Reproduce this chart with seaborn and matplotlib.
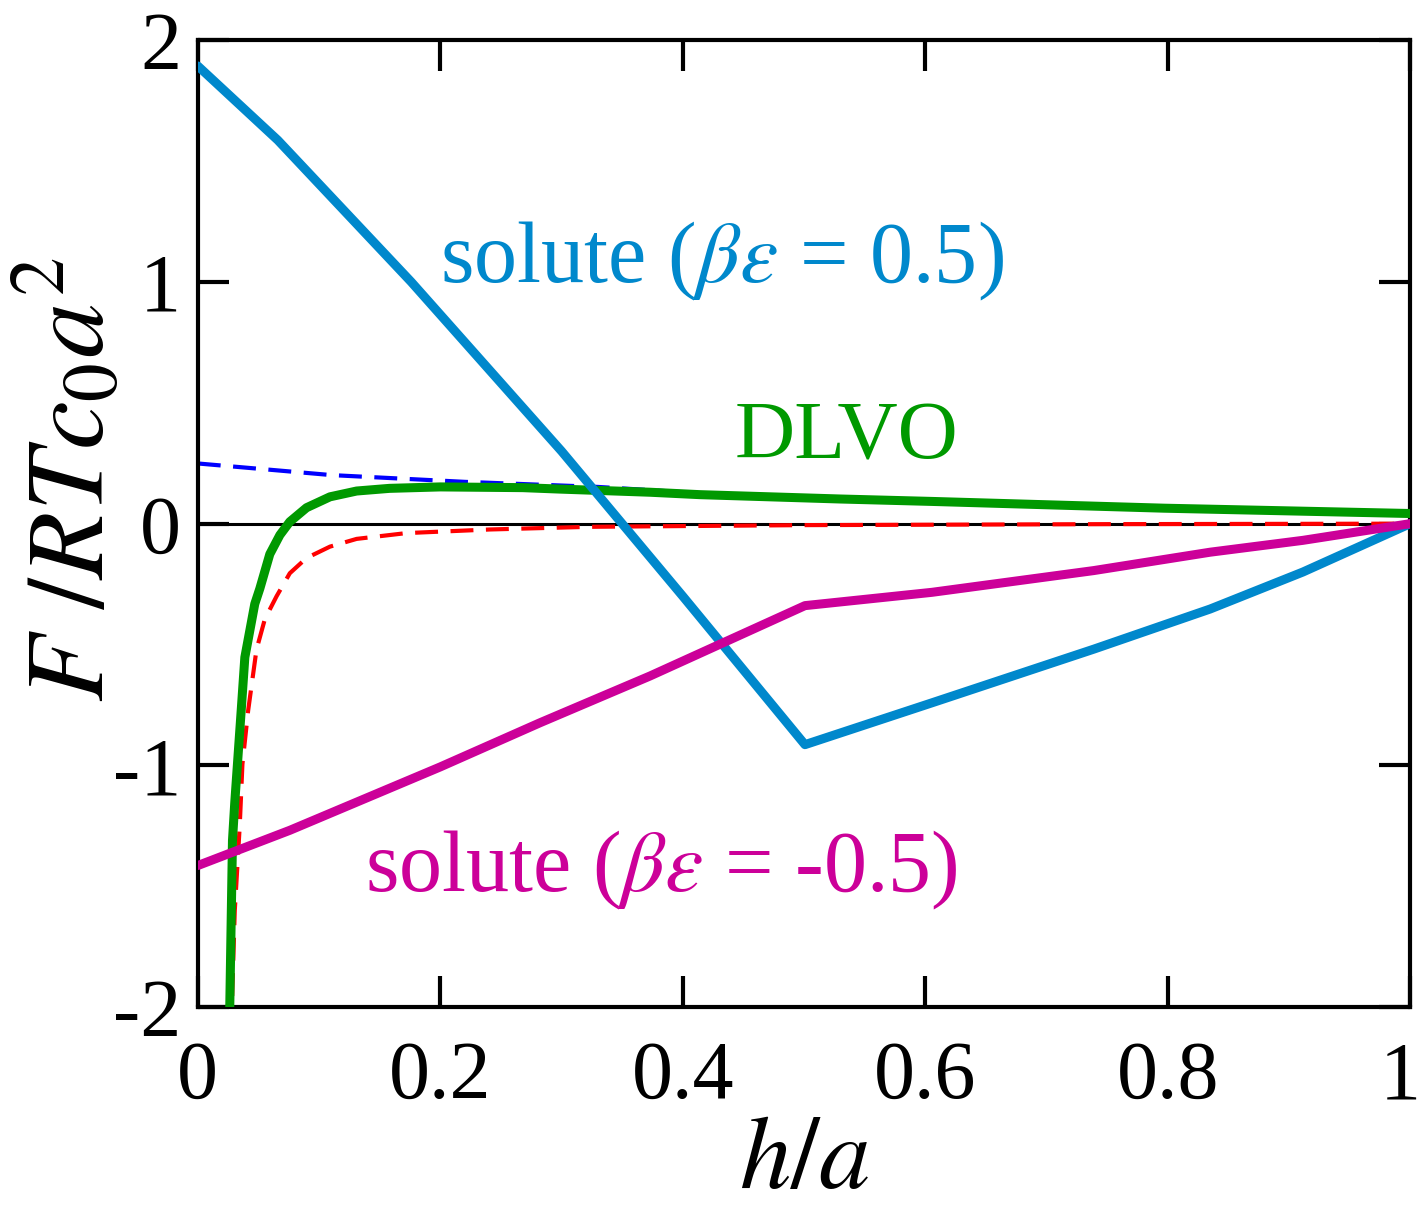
import matplotlib
matplotlib.use("Agg")
import matplotlib.pyplot as plt
import matplotlib.transforms as mtransforms
import seaborn as sns
import numpy as np

# ---- data ----
h_pos = [0.0, 0.066, 0.176, 0.3, 0.4, 0.5008, 0.6055, 0.739, 0.835, 0.9115, 1.0]
F_pos = [1.893, 1.586, 1.0, 0.30, -0.30, -0.914, -0.741, -0.519, -0.353, -0.20, 0.0]

h_neg = [0.0, 0.076, 0.2, 0.282, 0.373, 0.5008, 0.6055, 0.739, 0.835, 0.9115, 1.0]
F_neg = [-1.414, -1.268, -1.006, -0.824, -0.63, -0.339, -0.284, -0.194, -0.118, -0.069, 0.0]

h_dlvo = [0.0262, 0.0286, 0.0305, 0.036, 0.0388, 0.047, 0.0512, 0.0594, 0.0677, 0.0759,
          0.0897, 0.109, 0.131, 0.158, 0.2, 0.268, 0.2987, 0.373, 0.414, 0.53, 0.6055, 0.797, 1.0]
F_dlvo = [-2.05, -1.311, -1.153, -0.758, -0.553, -0.332, -0.268, -0.126, -0.047, 0.008,
          0.066, 0.111, 0.135, 0.146, 0.152, 0.149, 0.143, 0.130, 0.120, 0.102, 0.092, 0.064, 0.042]

h_edl = [0.0, 0.11, 0.22, 0.33, 0.414, 0.53, 0.6055, 0.797, 1.0]
F_edl = [0.249, 0.201, 0.173, 0.152, 0.126, 0.102, 0.093, 0.063, 0.042]

h_vdw = [0.0275, 0.0305, 0.0346, 0.0368, 0.0415, 0.0484, 0.0553, 0.065, 0.0759, 0.0897, 0.109,
         0.131, 0.172, 0.241, 0.323, 0.5, 0.75, 1.0]
F_vdw = [-2.1, -1.6, -1.248, -0.995, -0.774, -0.521, -0.395, -0.300, -0.205, -0.142, -0.095,
         -0.063, -0.039, -0.024, -0.013, -0.006, -0.002, 0.0]

x_ticks = [0, 0.2, 0.4, 0.6, 0.8, 1]
x_ticklabels = ["0", "0.2", "0.4", "0.6", "0.8", "1"]
y_ticks = [-2, -1, 0, 1, 2]
y_ticklabels = ["-2", "-1", "0", "1", "2"]

c_pos = "#0088CC"
c_neg = "#CC0099"
c_dlvo = "#009900"

sns.set_theme(style="ticks")
plt.rcParams["font.family"] = ["Liberation Serif", "DejaVu Serif"]
plt.rcParams["mathtext.fontset"] = "stix"
plt.rcParams["axes.labelcolor"] = "black"
plt.rcParams["text.color"] = "black"

fig = plt.figure(figsize=(14.23, 12.15), dpi=100)
ax = fig.add_axes([0.139, 0.171, 0.852, 0.796])

ax.axhline(0, color="black", lw=2.2, zorder=1)
sns.lineplot(x=h_edl, y=F_edl, ax=ax, color="#0000FF", lw=3.0, linestyle=(0, (5.5, 3)), zorder=2)
sns.lineplot(x=h_vdw, y=F_vdw, ax=ax, color="#FF0000", lw=3.0, linestyle=(0, (5.5, 3)), zorder=3)
sns.lineplot(x=h_dlvo, y=F_dlvo, ax=ax, color=c_dlvo, lw=6.5, zorder=4)
sns.lineplot(x=h_pos, y=F_pos, ax=ax, color=c_pos, lw=6.5, zorder=5)
sns.lineplot(x=h_neg, y=F_neg, ax=ax, color=c_neg, lw=6.5, zorder=6)

ax.set_xlim(0, 1)
ax.set_ylim(-2, 2)
ax.set_xticks(x_ticks)
ax.set_xticklabels(x_ticklabels)
ax.set_yticks(y_ticks)
ax.set_yticklabels(y_ticklabels)
ax.tick_params(direction="in", length=22, width=3, labelsize=59,
               top=True, right=True, colors="black")
ax.tick_params(axis="x", pad=24)
ax.tick_params(axis="y", pad=12)
for s in ax.spines.values():
    s.set_linewidth(3)
    s.set_color("black")

# nudge the last x tick label ("1") slightly left so it stays inside the figure
last = ax.get_xticklabels()[-1]
last.set_transform(last.get_transform() +
                   mtransforms.ScaledTranslation(-7 / 72, 0, fig.dpi_scale_trans))

ax.set_xlabel(r"$h/a$", fontsize=74, labelpad=0, color="black")
ax.set_ylabel(r"$F\ /RTc_0a^2$", fontsize=79, color="black")
ax.yaxis.set_label_coords(-0.105, 0.545)
ax.yaxis.label.set_verticalalignment("center")

ax.text(0.2, 0.996, r"solute ($\beta\varepsilon$ = 0.5)", color=c_pos, fontsize=62,
        ha="left", va="baseline")
ax.text(0.443, 0.27, "DLVO", color=c_dlvo, fontsize=60, ha="left", va="baseline")
ax.text(0.138, -1.52, r"solute ($\beta\varepsilon$ = -0.5)", color=c_neg, fontsize=62,
        ha="left", va="baseline")

fig.savefig("out.png", dpi=100)
